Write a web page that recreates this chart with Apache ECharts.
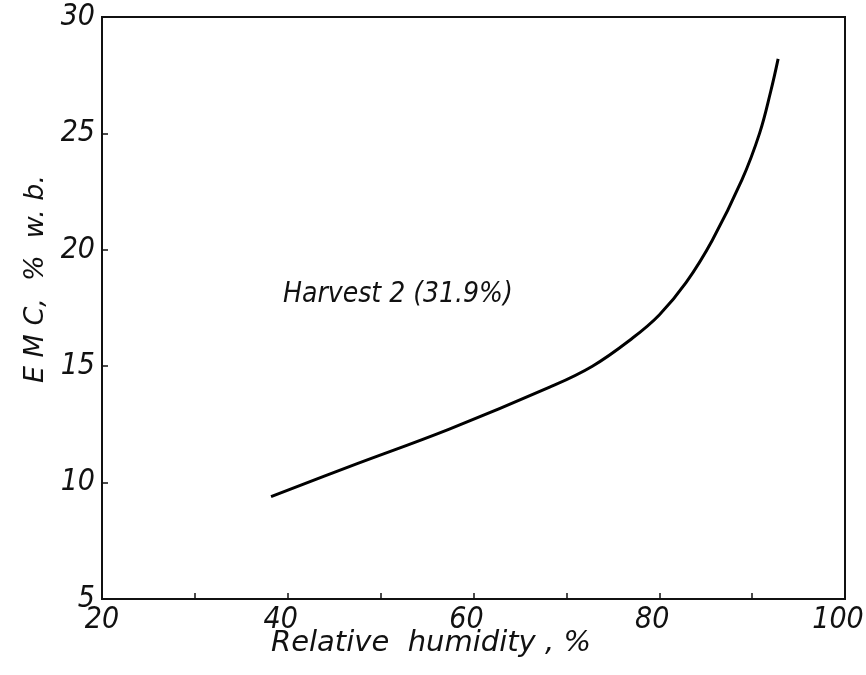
<!DOCTYPE html>
<html>
<head>
<meta charset="utf-8">
<script src="https://cdn.jsdelivr.net/npm/echarts@6/dist/echarts.min.js"></script>
<style>
  html, body { margin: 0; padding: 0; background: #fff; }
  #main { width: 866px; height: 675px; }
</style>
</head>
<body>
<div id="main"></div>
<script>
// values (relative humidity %, EMC % w.b.)
const humidity = [38.2, 46.7, 57.4, 68.2, 72.8, 77.1, 80.0, 82.9, 85.7, 88.9, 90.8, 92.0, 92.8]
const emc = [9.4, 10.7, 12.3, 14.1, 15.0, 16.2, 17.2, 18.6, 20.4, 23.0, 25.0, 26.8, 28.2]
const xLabels = [20, 40, 60, 80, 100]
const curveLabel = 'Harvest 2 (31.9%)'
const xName = 'Relative  humidity , %'
const yName = 'E M C,  %  w. b.'

const font = 'DejaVu Sans Condensed'
const ink = '#111'

const chart = echarts.init(document.getElementById('main'))
const option = {
  animation: false,
  backgroundColor: '#fff',
  grid: {
    left: 102,
    right: 21,
    top: 17,
    bottom: 76,
    containLabel: false,
    outerBoundsMode: 'none',
    show: true,
    borderColor: ink,
    borderWidth: 2
  },
  xAxis: {
    type: 'value',
    min: 20,
    max: 100,
    interval: 10,
    axisLine: { show: true, lineStyle: { color: ink, width: 2 } },
    axisTick: { show: true, inside: true, length: 6, lineStyle: { color: ink, width: 1.5 } },
    splitLine: { show: false },
    axisLabel: {
      margin: 6,
      fontFamily: font,
      fontStyle: 'italic',
      fontSize: 30,
      color: ink,
      formatter: (v) => {
        if (!xLabels.includes(v)) return ''
        return v === 20 ? String(v) : '{s|' + v + '}'
      },
      rich: {
        s: {
          fontFamily: font,
          fontStyle: 'italic',
          fontSize: 30,
          color: ink,
          padding: [0, 14, 0, 0]
        }
      }
    }
  },
  yAxis: {
    type: 'value',
    min: 5,
    max: 30,
    interval: 5,
    axisLine: { show: true, lineStyle: { color: ink, width: 2 } },
    axisTick: { show: true, inside: true, length: 6, lineStyle: { color: ink, width: 1.5 } },
    splitLine: { show: false },
    axisLabel: {
      margin: 7,
      fontFamily: font,
      fontStyle: 'italic',
      fontSize: 30,
      color: ink
    }
  },
  graphic: [
    {
      type: 'text',
      x: 283,
      y: 295,
      style: {
        text: curveLabel,
        font: 'italic 28px "DejaVu Sans Condensed"',
        fill: ink,
        align: 'left',
        verticalAlign: 'middle'
      }
    },
    {
      type: 'text',
      x: 431,
      y: 643,
      style: {
        text: xName,
        font: 'italic 29px "DejaVu Sans"',
        fill: ink,
        align: 'center',
        verticalAlign: 'middle'
      }
    },
    {
      type: 'text',
      x: 36,
      y: 279,
      rotation: Math.PI / 2,
      style: {
        text: yName,
        font: 'italic 27px "DejaVu Sans"',
        fill: ink,
        align: 'center',
        verticalAlign: 'middle'
      }
    }
  ],
  series: [
    {
      type: 'line',
      data: humidity.map((h, i) => [h, emc[i]]),
      smooth: 0.4,
      showSymbol: false,
      lineStyle: { color: '#000', width: 3 }
    }
  ]
}
chart.setOption(option)
</script>
</body>
</html>
